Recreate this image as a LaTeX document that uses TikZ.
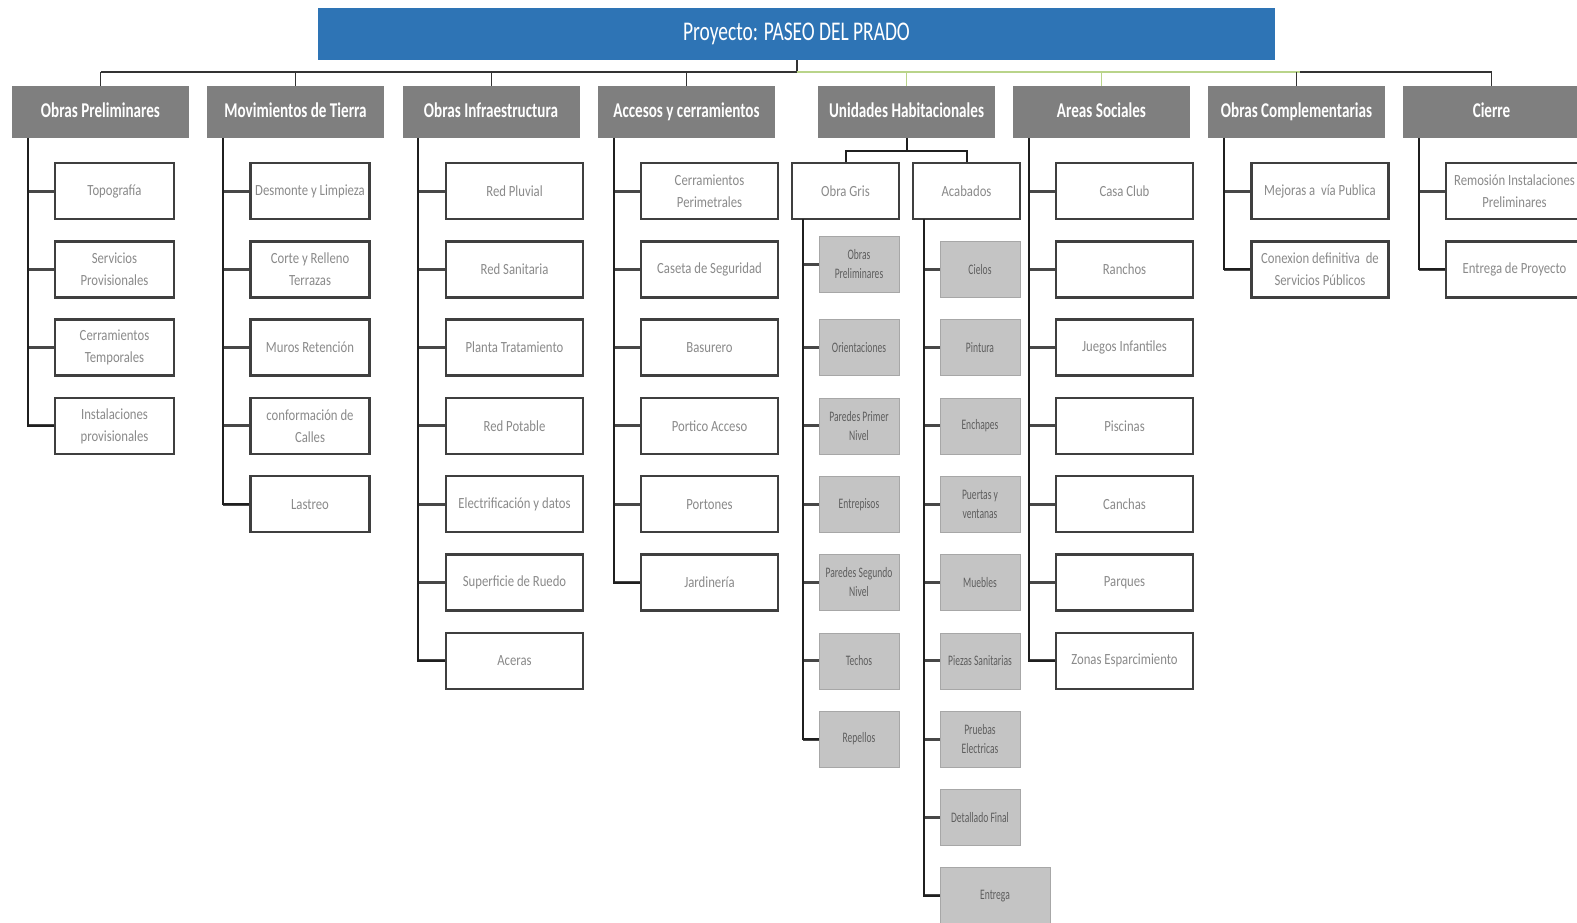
\documentclass[tikz,border=0pt]{standalone}
\usepackage{fontspec}
\setmainfont{Carlito}
\newfontfamily\condfont{Carlito}[FakeStretch=0.82]
\newfontfamily\narrowfont{Carlito}[FakeStretch=0.72]
\newfontfamily\tinyfont{Carlito}[FakeStretch=0.66]
\definecolor{titleblue}{HTML}{2E74B5}
\definecolor{catgray}{HTML}{7F7F7F}
\definecolor{leafborder}{HTML}{3F3F3F}
\definecolor{leaftext}{HTML}{8A8A8A}
\definecolor{gleaffill}{HTML}{C4C4C4}
\definecolor{gleaftext}{HTML}{5E5E5E}
\definecolor{busgreen}{HTML}{B9D48A}
\begin{document}
\begin{tikzpicture}[x=1pt,y=-1pt,
  titlebox/.style={rectangle,fill=titleblue,text=white,minimum width=957,minimum height=52,
    inner sep=0,font=\narrowfont\fontsize{27}{30}\selectfont},
  catbox/.style={rectangle,fill=catgray,text=white,minimum width=177,minimum height=52,
    inner sep=0,text height=15pt,text depth=4pt,
    font=\narrowfont\bfseries\fontsize{21}{24}\selectfont},
  leaf/.style={rectangle,draw=leafborder,line width=2.4pt,fill=white,text=leaftext,
    minimum height=56,inner sep=0,align=center,font=\condfont\fontsize{15.5}{22}\selectfont},
  narrowleaf/.style={leaf,minimum width=119},
  wideleaf/.style={leaf,minimum width=137},
  gleaf/.style={rectangle,draw=gleaffill!85!black,line width=0.6pt,fill=gleaffill,text=gleaftext,
    minimum width=80,minimum height=56,inner sep=0,align=center,
    font=\tinyfont\fontsize{14.5}{19}\selectfont},
  trunk/.style={draw=black!88,line width=2pt},
  stub/.style={draw=black!72,line width=3pt},
  bus/.style={draw=black!80,line width=2pt},
  greenbus/.style={draw=busgreen,line width=1.6pt}]
\useasboundingbox (0,0) rectangle (1577,923);

% root of the breakdown
\node[titlebox] (root) at (796.5,34) {Proyecto: PASEO DEL PRADO};

% first level
\node[catbox] (op) at (100.5,112) {Obras Preliminares};
\node[catbox] (mt) at (295.5,112) {Movimientos de Tierra};
\node[catbox] (oi) at (491,112)   {Obras Infraestructura};
\node[catbox] (ac) at (686.5,112) {Accesos y cerramientos};
\node[catbox] (uh) at (906.5,112) {Unidades Habitacionales};
\node[catbox] (as) at (1101.5,112) {Areas Sociales};
\node[catbox] (oc) at (1296.5,112) {Obras Complementarias};
\node[catbox] (ci) at (1491.5,112) {Cierre};

% horizontal bus under the title
\coordinate (bus) at (796.5,72);
\coordinate (busR) at (1300,72);
\draw[bus] (root.south) -- (bus);
\draw[bus] (op.north |- bus) -- (bus);
\draw[greenbus] (bus) -- (busR);
\draw[bus] (busR) -- (ci.north |- bus);
\foreach \c in {op,mt,oi,ac} \draw[bus,line width=1pt] (\c.north |- bus) -- (\c.north);
\foreach \c in {uh,as} \draw[greenbus,line width=1pt] (\c.north |- bus) -- (\c.north);
\foreach \c in {oc,ci} \draw[bus,line width=1pt] (\c.north |- bus) -- (\c.north);

% Obras Preliminares
\coordinate (opT) at (28,138);
\foreach \t [count=\i] in {Topografía,Servicios\\Provisionales,Cerramientos\\Temporales,Instalaciones\\provisionales}{
  \node[narrowleaf] (op\i) at (114.5,{191+78.3*(\i-1)}) {\t};
  \draw[stub] (op\i.west -| opT) -- (op\i.west);}
\draw[trunk] (opT) |- (op4.west);

% Movimientos de Tierra
\coordinate (mtT) at (223,138);
\foreach \t [count=\i] in {Desmonte y Limpieza,Corte y Relleno\\Terrazas,Muros Retención,conformación de\\Calles,Lastreo}{
  \node[narrowleaf] (mt\i) at (310,{191+78.3*(\i-1)}) {\t};
  \draw[stub] (mt\i.west -| mtT) -- (mt\i.west);}
\draw[trunk] (mtT) |- (mt5.west);

% Obras Infraestructura
\coordinate (oiT) at (418,138);
\foreach \t [count=\i] in {Red Pluvial,Red Sanitaria,Planta Tratamiento,Red Potable,Electrificación y datos,Superficie de Ruedo,Aceras}{
  \node[wideleaf] (oi\i) at (514.5,{191+78.3*(\i-1)}) {\t};
  \draw[stub] (oi\i.west -| oiT) -- (oi\i.west);}
\draw[trunk] (oiT) |- (oi7.west);

% Accesos y cerramientos
\coordinate (acT) at (614,138);
\foreach \t [count=\i] in {Cerramientos\\Perimetrales,Caseta de Seguridad,Basurero,Portico Acceso,Portones,Jardinería}{
  \node[wideleaf] (ac\i) at (709.5,{191+78.3*(\i-1)}) {\t};
  \draw[stub] (ac\i.west -| acT) -- (ac\i.west);}
\draw[trunk] (acT) |- (ac6.west);

% Unidades Habitacionales: two sub-branches
\node[leaf,minimum width=107] (og) at (845.5,191) {Obra Gris};
\node[leaf,minimum width=107] (ab) at (966.5,191) {Acabados};
\coordinate (br) at (906.5,151);
\draw[trunk] (uh.south) -- (br);
\draw[trunk] (og.north) -- (og.north |- br) -- (ab.north |- br) -- (ab.north);

% Obra Gris children
\coordinate (ogT) at (803,219);
\node[gleaf] (og2) at (859,264) {Obras\\Preliminares};
\draw[stub] (og2.west -| ogT) -- (og2.west);
\foreach \t [count=\i from 3] in {Orientaciones,Paredes Primer\\Nivel,Entrepisos,Paredes Segundo\\Nivel,Techos,Repellos}{
  \node[gleaf] (og\i) at (859,{191+78.3*(\i-1)}) {\t};
  \draw[stub] (og\i.west -| ogT) -- (og\i.west);}
\draw[trunk] (ogT) |- (og8.west);

% Acabados children
\coordinate (abT) at (924,219);
\foreach \t [count=\i from 2] in {Cielos,Pintura,Enchapes,Puertas y\\ventanas,Muebles,Piezas Sanitarias,Pruebas\\Electricas,Detallado Final}{
  \node[gleaf] (ab\i) at (980,{191+78.3*(\i-1)}) {\t};
  \draw[stub] (ab\i.west -| abT) -- (ab\i.west);}
\node[gleaf,minimum width=110] (ab10) at (995,895.7) {Entrega};
\draw[stub] (ab10.west -| abT) -- (ab10.west);
\draw[trunk] (abT) |- (ab10.west);

% Areas Sociales
\coordinate (asT) at (1029,138);
\foreach \t [count=\i] in {Casa Club,Ranchos,Juegos Infantiles,Piscinas,Canchas,Parques,Zonas Esparcimiento}{
  \node[wideleaf] (as\i) at (1124.5,{191+78.3*(\i-1)}) {\t};
  \draw[stub] (as\i.west -| asT) -- (as\i.west);}
\draw[trunk] (asT) |- (as7.west);

% Obras Complementarias
\coordinate (ocT) at (1224,138);
\foreach \t [count=\i] in {Mejoras a\ \ vía Publica,Conexion definitiva\ \ de\\Servicios Públicos}{
  \node[wideleaf] (oc\i) at (1320,{191+78.3*(\i-1)}) {\t};
  \draw[stub] (oc\i.west -| ocT) -- (oc\i.west);}
\draw[trunk] (ocT) |- (oc2.west);

% Cierre
\coordinate (ciT) at (1419,138);
\foreach \t [count=\i] in {Remosión Instalaciones\\Preliminares,Entrega de Proyecto}{
  \node[wideleaf] (ci\i) at (1514.5,{191+78.3*(\i-1)}) {\t};
  \draw[stub] (ci\i.west -| ciT) -- (ci\i.west);}
\draw[trunk] (ciT) |- (ci2.west);
\end{tikzpicture}
\end{document}
